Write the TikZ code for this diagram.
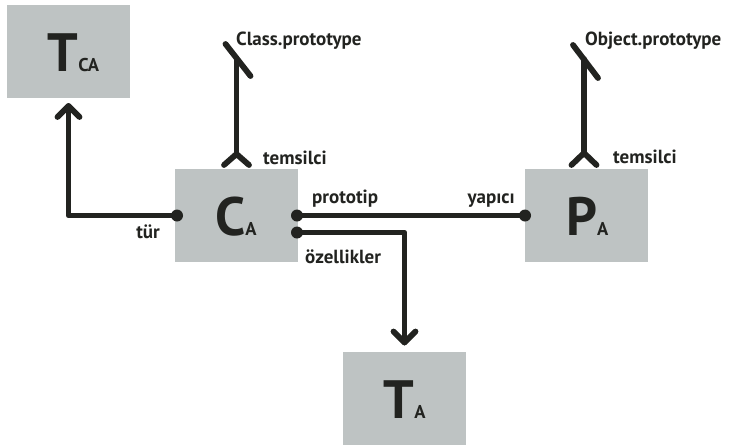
\documentclass[tikz,border=0pt]{standalone}
\usepackage{fontspec}
\setmainfont{PT Sans}
\usetikzlibrary{calc}
\definecolor{boxgray}{RGB}{190,195,195}
\definecolor{ink}{RGB}{34,35,32}
\newcommand{\boxletter}[2]{{\fontsize{54}{54}\selectfont #1}{\fontsize{18.5}{20}\selectfont #2}}
\begin{document}
\begin{tikzpicture}[x=1pt,y=-1pt,
  box/.style={fill=boxgray, draw=none, minimum width=123pt, minimum height=93pt, inner sep=0pt, outer sep=0pt},
  conn/.style={draw=ink, line width=5.8pt, line cap=round, line join=round},
  lbl/.style={text=ink, inner sep=0pt, font=\fontsize{19}{21}\selectfont\bfseries},
  big/.style={text=ink, inner sep=0pt, anchor=base west, font=\bfseries},
]
\useasboundingbox (0,0) rectangle (730,445);

% boxes
\node[box] (TCA) at (68.5,51.5) {};
\node[box] (CA)  at (236.5,215.5) {};
\node[box] (PA)  at (586.5,215.5) {};
\node[box] (TA)  at (404.5,398.5) {};

% box letters
\node[big] (tcaL) at (47.5,71) {\boxletter{T}{CA}};
\node[big] (caL)  at (215,235) {\boxletter{C}{A}};
\node[big] (paL)  at (566,235) {\boxletter{P}{A}};
\node[big] (taL)  at (383.5,418) {\boxletter{T}{A}};

% tur connector
\coordinate (turTip) at ($(TCA.south)+(0,8)$);
\draw[conn] (CA.west) -| (turTip);
\draw[conn] ($(turTip)+(-11,11)$) -- (turTip) -- ($(turTip)+(11,11)$);
\fill[ink] ($(CA.west)+(2,0)$) circle[radius=6pt];

% prototip / yapici connector
\draw[conn] (CA.east) -- (PA.west);
\fill[ink] ($(CA.east)+(-1,0)$) circle[radius=6pt];
\fill[ink] (PA.west) circle[radius=6pt];

% ozellikler connector
\coordinate (ozStart) at ($(CA.east)+(0,17)$);
\coordinate (ozTip) at ($(TA.north)+(0,-9.5)$);
\draw[conn] (ozStart) -| (ozTip);
\draw[conn] ($(ozTip)+(-11,-11)$) -- (ozTip) -- ($(ozTip)+(11,-11)$);
\fill[ink] ($(ozStart)+(-1,0)$) circle[radius=6pt];

% Class.prototype connector
\coordinate (cpBase) at (CA.north);
\coordinate (cpFork) at ($(cpBase)+(0,-15)$);
\coordinate (cpEnd) at ($(cpBase)+(0,-111)$);
\draw[conn] (cpFork) -- (cpEnd);
\draw[conn] ($(cpBase)+(-12.5,-4)$) -- (cpFork) -- ($(cpBase)+(12.5,-4)$);
\draw[conn] ($(cpEnd)+(-11,-14)$) -- ($(cpEnd)+(14,18)$);

% Object.prototype connector
\coordinate (opBase) at ($(PA.north)+(-2.5,0)$);
\coordinate (opFork) at ($(opBase)+(0,-16)$);
\coordinate (opEnd) at ($(opBase)+(0,-110)$);
\draw[conn] (opFork) -- (opEnd);
\draw[conn] ($(opBase)+(-12.5,-4)$) -- (opFork) -- ($(opBase)+(12.5,-4)$);
\draw[conn] ($(opEnd)+(-11,-14)$) -- ($(opEnd)+(14,19)$);

% labels
\node[lbl, anchor=base west] (lClass) at (236,45) {Class.prototype};
\node[lbl, anchor=base west] (lObject) at (585,45) {Object.prototype};
\node[lbl, anchor=base west] (lTem1) at (263,164) {temsilci};
\node[lbl, anchor=base west] (lTem2) at (613,163) {temsilci};
\node[lbl, anchor=base east] (lTur) at (160,238) {tür};
\node[lbl, anchor=base west] (lProto) at (312,203) {prototip};
\node[lbl, anchor=base east] (lYap) at (515,203) {yapıcı};
\node[lbl, anchor=base west] (lOz) at (305,263) {özellikler};
\end{tikzpicture}
\end{document}
